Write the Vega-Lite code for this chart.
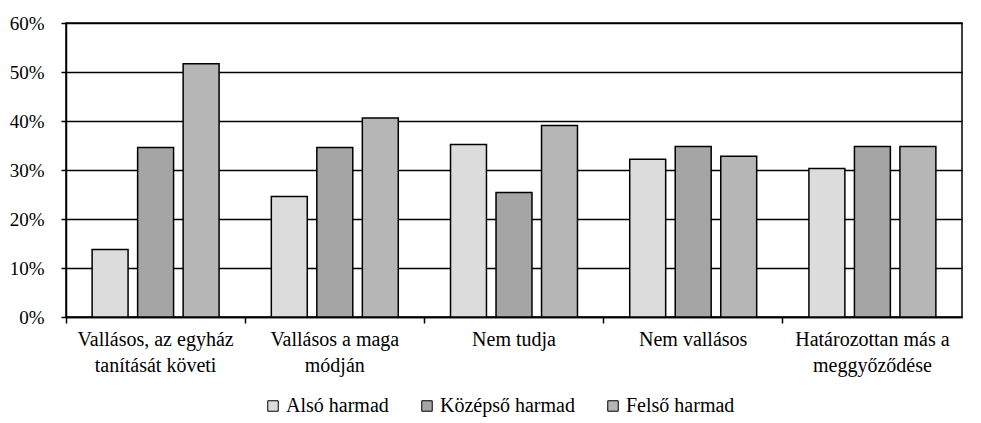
{
  "$schema": "https://vega.github.io/schema/vega-lite/v6.json",
  "width": 896,
  "height": 294,
  "autosize": {"type": "none"},
  "padding": {"left": 66, "top": 23, "right": 19, "bottom": 106},
  "background": "white",
  "data": {
    "values": [
      {"cat": "Vallásos, az egyház tanítását követi", "grp": "Alsó harmad", "v": 0.138},
      {"cat": "Vallásos, az egyház tanítását követi", "grp": "Középső harmad", "v": 0.346},
      {"cat": "Vallásos, az egyház tanítását követi", "grp": "Felső harmad", "v": 0.517},
      {"cat": "Vallásos a maga módján", "grp": "Alsó harmad", "v": 0.246},
      {"cat": "Vallásos a maga módján", "grp": "Középső harmad", "v": 0.346},
      {"cat": "Vallásos a maga módján", "grp": "Felső harmad", "v": 0.406},
      {"cat": "Nem tudja", "grp": "Alsó harmad", "v": 0.352},
      {"cat": "Nem tudja", "grp": "Középső harmad", "v": 0.254},
      {"cat": "Nem tudja", "grp": "Felső harmad", "v": 0.391},
      {"cat": "Nem vallásos", "grp": "Alsó harmad", "v": 0.322},
      {"cat": "Nem vallásos", "grp": "Középső harmad", "v": 0.348},
      {"cat": "Nem vallásos", "grp": "Felső harmad", "v": 0.328},
      {"cat": "Határozottan más a meggyőződése", "grp": "Alsó harmad", "v": 0.303},
      {"cat": "Határozottan más a meggyőződése", "grp": "Középső harmad", "v": 0.348},
      {"cat": "Határozottan más a meggyőződése", "grp": "Felső harmad", "v": 0.348}
    ]
  },
  "mark": {"type": "bar", "stroke": "black", "strokeWidth": 1.5},
  "encoding": {
    "x": {
      "field": "cat",
      "type": "nominal",
      "sort": null,
      "title": null,
      "scale": {"paddingInner": 0, "paddingOuter": 0},
      "axis": {
        "bandPosition": 0,
        "labelAngle": 0,
        "labelAlign": "center",
        "labelBaseline": "top",
        "labelPadding": 6,
        "labelFontSize": 20,
        "tickSize": 6,
        "tickColor": "black",
        "tickWidth": 1.5,
        "domainColor": "black",
        "domainWidth": 1.5,
        "labelLineHeight": 26,
        "labelOverlap": false,
        "labelExpr": "datum.value == 'Vallásos, az egyház tanítását követi' ? ['Vallásos, az egyház', 'tanítását követi'] : datum.value == 'Vallásos a maga módján' ? ['Vallásos a maga', 'módján'] : datum.value == 'Határozottan más a meggyőződése' ? ['Határozottan más a', 'meggyőződése'] : datum.value"
      }
    },
    "xOffset": {
      "field": "grp",
      "type": "nominal",
      "sort": ["Alsó harmad", "Középső harmad", "Felső harmad"],
      "scale": {"paddingInner": 0.21, "paddingOuter": 0.574}
    },
    "y": {
      "field": "v",
      "type": "quantitative",
      "title": null,
      "scale": {"domain": [0, 0.6], "nice": false},
      "axis": {
        "format": ".0%",
        "values": [0, 0.1, 0.2, 0.3, 0.4, 0.5, 0.6],
        "labelOverlap": false,
        "labelFontSize": 19,
        "grid": true,
        "gridColor": "black",
        "gridWidth": 1.5,
        "gridOpacity": 1,
        "tickColor": "black",
        "tickSize": 5,
        "tickWidth": 1.5,
        "domainColor": "black",
        "domainWidth": 1.5,
        "labelPadding": 17
      }
    },
    "fill": {
      "field": "grp",
      "type": "nominal",
      "sort": ["Alsó harmad", "Középső harmad", "Felső harmad"],
      "scale": {"range": ["#dcdcdc", "#a5a5a5", "#b6b6b6"]},
      "legend": {
        "title": null,
        "orient": "none",
        "legendX": 197,
        "legendY": 373,
        "direction": "horizontal",
        "symbolType": "square",
        "symbolSize": 110,
        "symbolStrokeColor": "black",
        "symbolStrokeWidth": 1,
        "columnPadding": 28,
        "labelOffset": 3,
        "labelFontSize": 20
      }
    }
  },
  "config": {
    "font": "Liberation Serif, DejaVu Serif, serif",
    "view": {"stroke": "black", "strokeWidth": 1.5},
    "axis": {"labelFont": "Liberation Serif, DejaVu Serif, serif", "labelColor": "black"},
    "legend": {"labelFont": "Liberation Serif, DejaVu Serif, serif", "labelColor": "black"}
  }
}
